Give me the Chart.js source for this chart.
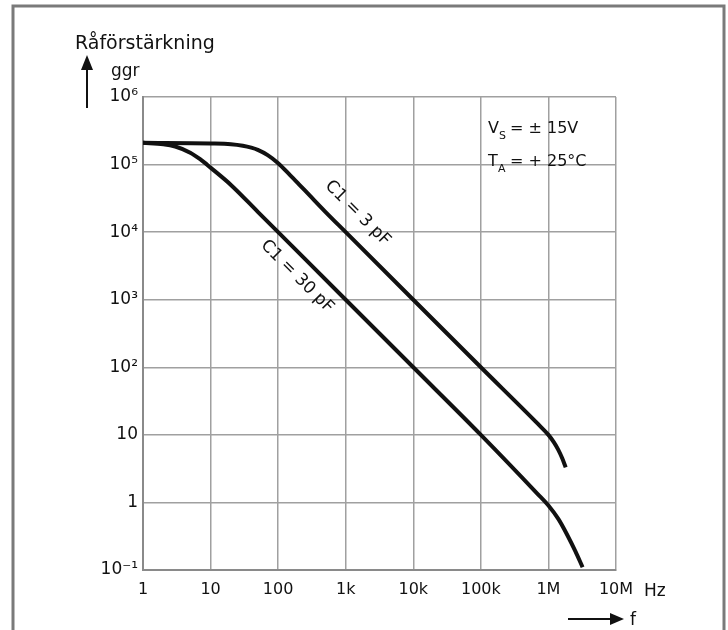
<!DOCTYPE html>
<html lang="sv">
<head>
    <meta charset="UTF-8">
    <title>Råförstärkning</title>
    <script src="https://cdn.jsdelivr.net/npm/chart.js"></script>
</head>
<body>
    <style>
        body { margin: 0; padding: 0; background: #fff; }
        .wrap { width: 728px; height: 630px; }
    </style>

    <div class="wrap">
        <canvas id="gainChart" width="728" height="630"></canvas>
    </div>

    <script>
        // tick values and labels
        const freqTicks = [1, 10, 100, 1e3, 1e4, 1e5, 1e6, 1e7];
        const freqLabels = ['1', '10', '100', '1k', '10k', '100k', '1M', '10M'];
        const gainTicks = [0.1, 1, 10, 100, 1e3, 1e4, 1e5, 1e6];
        const gainLabels = ['10⁻¹', '1', '10', '10²', '10³', '10⁴', '10⁵', '10⁶'];

        // C1 = 3 pF
        const freq3 = [1, 10, 20, 30, 40, 50, 70, 100, 150, 200, 300, 500, 1e3, 1e4, 1e5, 7e5, 1e6, 1.2e6, 1.4e6, 1.6e6, 1.8e6];
        const gain3 = [2.1e5, 2.05e5, 2.0e5, 1.9e5, 1.78e5, 1.65e5, 1.38e5, 1.05e5, 7.0e4, 5.2e4, 3.4e4, 2.0e4, 1e4, 1e3, 100, 14.5, 10, 7.8, 6, 4.5, 3.3];

        // C1 = 30 pF
        const freq30 = [1, 2, 3, 5, 7, 10, 20, 50, 100, 1e3, 1e4, 1e5, 7e5, 1e6, 1.4e6, 1.9e6, 2.5e6, 3.2e6];
        const gain30 = [2.1e5, 2.0e5, 1.85e5, 1.5e5, 1.2e5, 9e4, 5e4, 2e4, 1e4, 1e3, 100, 10, 1.32, 0.9, 0.57, 0.33, 0.19, 0.11];

        const FONT = "'DejaVu Sans', sans-serif";

        const toPoints = (xs, ys) => xs.map((x, i) => ({ x: x, y: ys[i] }));

        // text, arrows and frame drawn on top of the chart
        const extras = {
            id: 'extras',
            afterDraw(chart) {
                const ctx = chart.ctx;
                const xs = chart.scales.x;
                const ys = chart.scales.y;
                ctx.save();

                // outer frame
                ctx.strokeStyle = '#7a7a7a';
                ctx.lineWidth = 3;
                ctx.beginPath();
                ctx.moveTo(13, 630);
                ctx.lineTo(13, 6);
                ctx.lineTo(724, 6);
                ctx.lineTo(724, 630);
                ctx.stroke();

                ctx.fillStyle = '#111';
                ctx.strokeStyle = '#111';
                ctx.textBaseline = 'alphabetic';
                ctx.textAlign = 'left';
                ctx.font = '19px ' + FONT;
                ctx.fillText('Råförstärkning', 75, 49);
                ctx.font = '17px ' + FONT;
                ctx.fillText('ggr', 111, 76);

                // up arrow
                ctx.lineWidth = 2;
                ctx.beginPath();
                ctx.moveTo(87, 108);
                ctx.lineTo(87, 66);
                ctx.stroke();
                ctx.beginPath();
                ctx.moveTo(87, 55);
                ctx.lineTo(81, 70);
                ctx.lineTo(93, 70);
                ctx.closePath();
                ctx.fill();

                // unit and frequency arrow
                const ax = xs.getPixelForValue(1e7);
                ctx.fillText('Hz', ax + 28, 596);
                ctx.beginPath();
                ctx.moveTo(ax - 48, 619);
                ctx.lineTo(ax - 2, 619);
                ctx.stroke();
                ctx.beginPath();
                ctx.moveTo(ax + 8, 619);
                ctx.lineTo(ax - 6, 613);
                ctx.lineTo(ax - 6, 625);
                ctx.closePath();
                ctx.fill();
                ctx.fillText('f', ax + 14, 625);

                // conditions
                const tx = 488;
                ctx.font = '16px ' + FONT;
                ctx.fillText('V', tx, 133);
                ctx.fillText('T', tx, 166);
                ctx.font = '11px ' + FONT;
                ctx.fillText('S', tx + 11, 139);
                ctx.fillText('A', tx + 10, 172);
                ctx.font = '16px ' + FONT;
                ctx.fillText('= ± 15V', tx + 22, 133);
                ctx.fillText('= + 25°C', tx + 22, 166);

                // curve labels
                const labels = [
                    { text: 'C1 = 3 pF', f: 1500, g: 1.9e4 },
                    { text: 'C1 = 30 pF', f: 190, g: 2.2e3 }
                ];
                ctx.font = '17px ' + FONT;
                ctx.textAlign = 'center';
                ctx.textBaseline = 'middle';
                labels.forEach(l => {
                    ctx.save();
                    ctx.translate(xs.getPixelForValue(l.f), ys.getPixelForValue(l.g));
                    ctx.rotate(Math.PI / 4);
                    ctx.fillText(l.text, 0, 0);
                    ctx.restore();
                });

                ctx.restore();
            }
        };

        const ctx = document.getElementById('gainChart').getContext('2d');
        new Chart(ctx, {
            type: 'line',
            data: {
                datasets: [
                    {
                        label: 'C1 = 3 pF',
                        data: toPoints(freq3, gain3),
                        borderColor: '#111',
                        borderWidth: 4,
                        pointRadius: 0,
                        cubicInterpolationMode: 'monotone'
                    },
                    {
                        label: 'C1 = 30 pF',
                        data: toPoints(freq30, gain30),
                        borderColor: '#111',
                        borderWidth: 4,
                        pointRadius: 0,
                        cubicInterpolationMode: 'monotone'
                    }
                ]
            },
            options: {
                responsive: false,
                animation: false,
                layout: {
                    padding: { left: 83, top: 97, right: 112, bottom: 20 }
                },
                plugins: {
                    legend: { display: false },
                    tooltip: { enabled: false }
                },
                scales: {
                    x: {
                        type: 'logarithmic',
                        min: 1,
                        max: 1e7,
                        afterBuildTicks: s => { s.ticks = freqTicks.map(v => ({ value: v })); },
                        afterFit: s => { s.height = 40; },
                        grid: { color: '#a0a0a0', lineWidth: 1.5, drawTicks: false },
                        border: { color: '#8a8a8a', width: 2 },
                        ticks: {
                            autoSkip: false,
                            maxRotation: 0,
                            padding: 10,
                            color: '#111',
                            font: { family: FONT, size: 16 },
                            callback: (v, i) => freqLabels[i]
                        }
                    },
                    y: {
                        type: 'logarithmic',
                        min: 0.1,
                        max: 1e6,
                        afterBuildTicks: s => { s.ticks = gainTicks.map(v => ({ value: v })); },
                        afterFit: s => { s.width = 60; },
                        grid: { color: '#a0a0a0', lineWidth: 1.5, drawTicks: false },
                        border: { color: '#8a8a8a', width: 2 },
                        ticks: {
                            autoSkip: false,
                            padding: 5,
                            color: '#111',
                            font: { family: FONT, size: 17 },
                            callback: (v, i) => gainLabels[i]
                        }
                    }
                }
            },
            plugins: [extras]
        });
    </script>
</body>
</html>
